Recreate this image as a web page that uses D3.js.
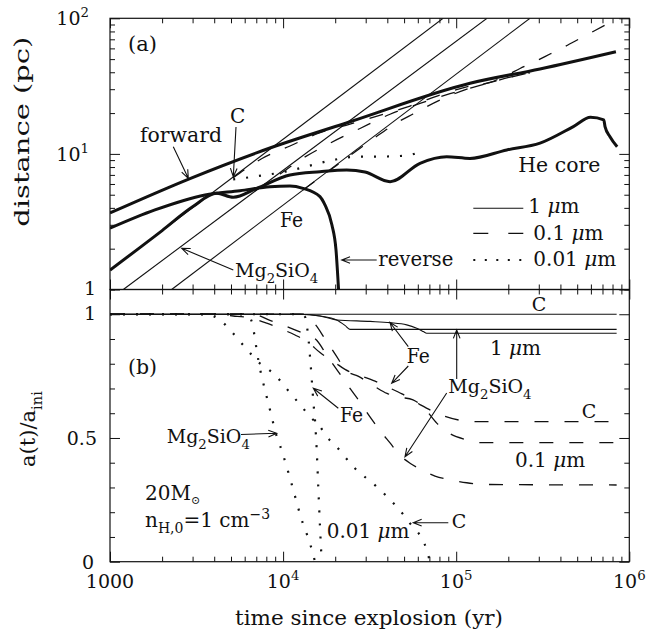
<!DOCTYPE html>
<html>
<head>
<meta charset="utf-8">
<script src="https://cdn.jsdelivr.net/npm/d3@7"></script>
<style>
body { margin: 0; background: #fff; }
text { font-family: "DejaVu Serif", serif; fill: #111; }
</style>
</head>
<body>
<svg id="chart" width="646" height="636"></svg>
<script>
// ---- panel (a): distance (pc) vs time (yr) ----
var forwardShock = [[1000,3.67],[2897,6.58],[8394,11.05],[24360,17.27],[120200,33.2],[304800,42.3],[837000,56.7]];
var reverseShock = [[1000,2.83],[1818,3.86],[3540,4.98],[5636,5.35],[8394,5.73],[10960,5.80],[13030,5.57],
                    [16330,4.84],[17450,4.20],[19150,2.99],[20210,1.96],[20910,1]];
var heCore = [[1000,1.39],[2000,2.72],[3000,4.07],[4130,5.12],[5150,4.79],[7050,5.57],[10960,6.99],[16330,7.39],
              [23300,7.61],[29700,7.35],[41500,6.24],[61800,8.53],[88100,9.53],[120000,9.26],[196000,10.7],
              [305000,12.0],[475000,15.9],[597000,18.6],[712000,17.8],[724000,15.9],[773500,13.4],[851000,11.3]];
// 1 um grains
var rC1 = [[1000,1.39],[84000,100]];
var rMg1 = [[1194,1],[150600,100]];
var rFe1 = [[2270,1],[266700,100]];
// 0.1 um grains
var rC01 = [[5135,6.64],[7551,9.25],[10960,11.44],[15910,14.14],[24350,16.61],[37770,19.53],[54100,22.55],
            [80600,27.2],[120200,31.68],[156800,33.62],[191400,37.54],[233700,42.65],[285300,48.03],
            [348300,54.53],[425200,61.94],[519100,70.96],[633800,81.28],[791300,94.4]];
var rMg01 = [[6880,5.33],[9597,7.1],[13030,9.3],[18660,12.0],[27820,15.4],[41470,19.6],[61800,23.6],
             [92100,27.8],[137300,32.0],[204600,36.8],[266900,39.6]];
var rFe01 = [[13030,5.42],[21320,8.57],[33060,12.88],[46120,17.19],[56300,19.69],[80600,24.97],
             [120200,30.62],[179100,35.08],[266900,39.84]];
// 0.01 um grains
var rC001 = [[5150,6.48],[7190,6.87],[10260,7.39],[13990,8.14],[19500,9.02],[26600,9.53],[37900,9.56],
             [51800,9.73],[63200,10.5]];

// ---- panel (b): a(t)/a_ini vs time (yr) ----
var aC1 = [[1000,1],[845000,1]];
var aMg1 = [[1000,1],[12520,1],[16340,0.993],[20400,0.977],[22780,0.955],[24350,0.939],[845000,0.939]];
var aFe1 = [[1000,1],[12520,1],[16340,0.993],[20400,0.977],[31770,0.971],[41470,0.966],[51760,0.957],
            [59140,0.943],[64570,0.93],[67540,0.923],[845000,0.923]];
var aC01 = [[1000,1],[3538,1],[5155,0.993],[6440,0.985],[8040,0.964],[9815,0.94],[11720,0.916],[13980,0.886],
            [16340,0.845],[19940,0.805],[22780,0.777],[27820,0.752],[33060,0.733],[40370,0.705],[48630,0.678],
            [61800,0.635],[83870,0.59],[109500,0.57],[137300,0.566],[845000,0.566]];
var aMg01 = [[1000,1],[6699,1],[8394,0.975],[10960,0.945],[13380,0.92],[15640,0.895],[17860,0.835],[21800,0.748],
             [24350,0.70],[27820,0.645],[31770,0.585],[36290,0.53],[41470,0.48],[47350,0.43],[54100,0.398],
             [63200,0.371],[75430,0.346],[94190,0.33],[115000,0.319],[156800,0.312],[845000,0.31]];
var aFe01 = [[1000,1],[13030,1],[15290,0.96],[17480,0.9],[19940,0.84],[23390,0.77],[27090,0.75],[33960,0.707],
             [39830,0.68],[47350,0.665],[56300,0.654],[64290,0.626],[77450,0.559],[88480,0.525],[115500,0.492],
             [133700,0.481],[845000,0.481]];
var aC001 = [[1000,1],[3538,1],[3937,0.993],[4436,0.97],[4934,0.937],[5636,0.89],[6295,0.852],[7039,0.812],
             [8040,0.782],[9183,0.748],[10260,0.707],[11450,0.667],[12810,0.627],[14300,0.586],[16340,0.546],
             [17860,0.505],[19940,0.472],[25440,0.384],[34730,0.303],[45330,0.222],[54100,0.155],[67540,0.047],[70570,0]];
var aMg001 = [[1000,1],[5636,1],[6355,0.99],[6699,0.95],[6880,0.9],[7192,0.815],[7522,0.748],[7862,0.694],
              [8214,0.64],[8595,0.586],[8979,0.53],[9597,0.47],[10490,0.384],[11450,0.29],[12810,0.169],
              [14300,0.074],[15290,0]];
var aFe001 = [[1000,1],[12520,1],[13380,0.99],[13740,0.95],[14020,0.9],[14300,0.83],[14630,0.74],[14940,0.65],
              [15290,0.57],[15640,0.45],[15970,0.3],[16340,0.14],[16710,0]];

var svg = d3.select("#chart");
var L = 110, R = 629.3, T = 18.3, M = 289.5, B = 561.7;

var x = d3.scaleLog().domain([1e3, 1e6]).range([L, R]);
var yA = d3.scaleLog().domain([1, 100]).range([M, T]);
var yB = d3.scaleLinear().domain([0, 1.1]).range([B, M]);

var defs = svg.append("defs");
defs.append("clipPath").attr("id", "clipA").append("rect")
    .attr("x", L).attr("y", T).attr("width", R - L).attr("height", M - T);
defs.append("clipPath").attr("id", "clipB").append("rect")
    .attr("x", L).attr("y", M).attr("width", R - L).attr("height", B - M);

var styles = {
  thick:  {w: 3,   dash: null},
  thin:   {w: 1.1, dash: null},
  dashed: {w: 1.3, dash: "14,16"},
  dotted: {w: 2.2, dash: "2,11"}
};

function drawSeries(g, data, y, kind) {
  var line = d3.line().x(function(d){ return x(d[0]); }).y(function(d){ return y(d[1]); })
      .curve(d3.curveMonotoneX);
  g.append("path").datum(data)
    .attr("d", line)
    .attr("fill", "none")
    .attr("stroke", "#111")
    .attr("stroke-width", styles[kind].w)
    .attr("stroke-dasharray", styles[kind].dash)
    .attr("stroke-linejoin", "round");
}

var gA = svg.append("g").attr("clip-path", "url(#clipA)");
drawSeries(gA, rC1, yA, "thin");
drawSeries(gA, rMg1, yA, "thin");
drawSeries(gA, rFe1, yA, "thin");
drawSeries(gA, rC01, yA, "dashed");
drawSeries(gA, rMg01, yA, "dashed");
drawSeries(gA, rFe01, yA, "dashed");
drawSeries(gA, rC001, yA, "dotted");
drawSeries(gA, forwardShock, yA, "thick");
drawSeries(gA, reverseShock, yA, "thick");
drawSeries(gA, heCore, yA, "thick");

var gB = svg.append("g").attr("clip-path", "url(#clipB)");
drawSeries(gB, aC001, yB, "dotted");
drawSeries(gB, aMg001, yB, "dotted");
drawSeries(gB, aFe001, yB, "dotted");
drawSeries(gB, aC01, yB, "dashed");
drawSeries(gB, aMg01, yB, "dashed");
drawSeries(gB, aFe01, yB, "dashed");
drawSeries(gB, aC1, yB, "thin");
drawSeries(gB, aMg1, yB, "thin");
drawSeries(gB, aFe1, yB, "thin");

// frames
[[T, M], [M, B]].forEach(function(p){
  svg.append("rect").attr("x", L).attr("y", p[0]).attr("width", R - L).attr("height", p[1] - p[0])
    .attr("fill", "none").attr("stroke", "#111").attr("stroke-width", 1.2);
});

// ticks (inward), built with d3 axes
function isDecade(v){ var l = Math.log10(v); return Math.abs(l - Math.round(l)) < 1e-6; }
function isHalf(v){ return Math.abs(v * 2 - Math.round(v * 2)) < 1e-6; }
var xTicks = x.ticks();
var yATicks = yA.ticks();
var yBTicks = d3.range(0, 11.5, 1).map(function(i){ return i / 10; });

function tickRow(axis, pos, attr, sign, major) {
  var g = svg.append("g").attr("transform", pos);
  g.call(axis.tickFormat("").tickSizeOuter(0));
  g.select(".domain").remove();
  g.selectAll(".tick line")
    .attr(attr, function(d){ return sign * (major(d) ? 10 : 5); })
    .attr("stroke", "#111").attr("stroke-width", 1);
}
tickRow(d3.axisTop(x).tickValues(xTicks), "translate(0," + T + ")", "y2", 1, isDecade);
tickRow(d3.axisBottom(x).tickValues(xTicks), "translate(0," + M + ")", "y2", -1, isDecade);
tickRow(d3.axisTop(x).tickValues(xTicks), "translate(0," + M + ")", "y2", 1, isDecade);
tickRow(d3.axisBottom(x).tickValues(xTicks), "translate(0," + B + ")", "y2", -1, isDecade);
tickRow(d3.axisLeft(yA).tickValues(yATicks), "translate(" + L + ",0)", "x2", 1, isDecade);
tickRow(d3.axisRight(yA).tickValues(yATicks), "translate(" + R + ",0)", "x2", -1, isDecade);
tickRow(d3.axisLeft(yB).tickValues(yBTicks), "translate(" + L + ",0)", "x2", 1, isHalf);
tickRow(d3.axisRight(yB).tickValues(yBTicks), "translate(" + R + ",0)", "x2", -1, isHalf);

// rich text with sub/superscripts: part = [text, kind, relSize, relShift]
function rich(px, py, parts, size, anchor, parent) {
  var t = (parent || svg).append("text").attr("x", px).attr("y", py)
      .attr("font-size", size).attr("text-anchor", anchor || "start");
  var shift = 0;
  parts.forEach(function(p){
    var kind = p[1] || "n";
    var target = kind === "sub" ? size * (p[3] || 0.32) : kind === "sup" ? -size * 0.42 : 0;
    var s = t.append("tspan").text(p[0]).attr("dy", target - shift);
    shift = target;
    if (kind === "sub" || kind === "sup") s.attr("font-size", size * (p[2] || 0.7));
    if (kind === "it") s.attr("font-style", "italic");
  });
  return t;
}
function plain(px, py, str, size, len) {
  var t = svg.append("text").attr("x", px).attr("y", py).attr("font-size", size).text(str);
  if (len) t.attr("textLength", len).attr("lengthAdjust", "spacingAndGlyphs");
  return t;
}
function arrow(x1, y1, x2, y2) {
  var a = Math.atan2(y1 - y2, x1 - x2), h = 9, s = 0.38;
  var p = "M" + x1 + "," + y1 + "L" + x2 + "," + y2 +
          "M" + (x2 + h * Math.cos(a + s)) + "," + (y2 + h * Math.sin(a + s)) + "L" + x2 + "," + y2 +
          "L" + (x2 + h * Math.cos(a - s)) + "," + (y2 + h * Math.sin(a - s));
  svg.append("path").attr("d", p).attr("fill", "none").attr("stroke", "#111").attr("stroke-width", 1.1);
}

// tick labels
var fs = 19;
rich(L, 588, [["1000"]], fs, "middle");
[[1e4, "4"], [1e5, "5"], [1e6, "6"]].forEach(function(d){
  rich(x(d[0]), 588, [["10"], [d[1], "sup"]], fs, "middle");
});
rich(89, yA(100) + 7, [["10"], ["2", "sup"]], fs, "end");
rich(89, yA(10) + 7, [["10"], ["1", "sup"]], fs, "end");
rich(96, yA(1) + 5, [["1"]], fs, "end");
rich(96, yB(1) + 6, [["1"]], fs, "end");
rich(97, yB(0.5) + 7, [["0.5"]], fs, "end");
rich(94, yB(0) + 7, [["0"]], fs, "end");

// axis titles
plain(235, 625, "time since explosion (yr)", 21, 268);
svg.append("text").attr("transform", "translate(29,131.7) rotate(-90)")
  .attr("text-anchor", "middle").attr("font-size", 21)
  .attr("textLength", 190).attr("lengthAdjust", "spacingAndGlyphs").text("distance (pc)");
var gy = svg.append("g").attr("transform", "translate(35,429) rotate(-90)");
rich(0, 0, [["a(t)/a"], ["ini", "sub"]], 21, "middle", gy);

// panel (a) annotations
plain(128, 51, "(a)", 20, 29);
plain(140, 141.7, "forward", 20, 82);
arrow(173.3, 146.7, 188.3, 178.3);
plain(230, 123, "C", 20);
arrow(236, 127, 233.3, 176.7);
plain(280, 226.7, "Fe", 20, 23);
rich(235, 277, [["Mg"], ["2", "sub"], ["SiO"], ["4", "sub"]], 19);
arrow(233.3, 270, 181.7, 248.3);
plain(518.3, 171.7, "He core", 20, 82);
plain(378.3, 266, "reverse", 20, 75);
arrow(376.7, 260, 341.7, 260);

// legend
var legend = [["1 ", 213, null, 1.1, 528.3], ["0.1 ", 240, "15,20", 1.3, 533.3], ["0.01 ", 266, "2,9.5", 2.2, 533.3]];
var legY = [208.3, 233.3, 260];
legend.forEach(function(d, i){
  svg.append("line").attr("x1", 473.3).attr("x2", 523.3).attr("y1", legY[i]).attr("y2", legY[i])
    .attr("stroke", "#111").attr("stroke-width", d[3]).attr("stroke-dasharray", d[2]);
  rich(d[4], d[1], [[d[0]], ["μ", "it"], ["m"]], 20);
});

// panel (b) annotations
plain(128, 374, "(b)", 20, 29);
plain(531.7, 311, "C", 19);
plain(406.7, 363, "Fe", 20, 23);
arrow(408.3, 346.7, 390, 322.5);
arrow(408.3, 366, 391.7, 383.3);
rich(490, 355, [["1 "], ["μ", "it"], ["m"]], 20);
rich(448.3, 393, [["Mg"], ["2", "sub"], ["SiO"], ["4", "sub"]], 19);
arrow(456.7, 379, 456.7, 330);
arrow(446.7, 393, 405, 456.7);
plain(581.7, 418, "C", 19);
rich(515, 466.7, [["0.1 "], ["μ", "it"], ["m"]], 20);
rich(166.7, 443, [["Mg"], ["2", "sub"], ["SiO"], ["4", "sub"]], 19);
arrow(241, 434.5, 276.7, 433.3);
plain(340, 421.7, "Fe", 20, 23);
arrow(338.3, 408.3, 313.3, 388.3);
rich(145, 500, [["20M"], ["⊙", "sub", 0.55, 0.18]], 20);
rich(145, 527, [["n"], ["H,0", "sub"], ["=1 cm"], ["−3", "sup"]], 20);
rich(326.7, 538, [["0.01 "], ["μ", "it"], ["m"]], 20);
plain(451.7, 528.3, "C", 19);
arrow(448.3, 522.7, 413.3, 522.7);
</script>
</body>
</html>
